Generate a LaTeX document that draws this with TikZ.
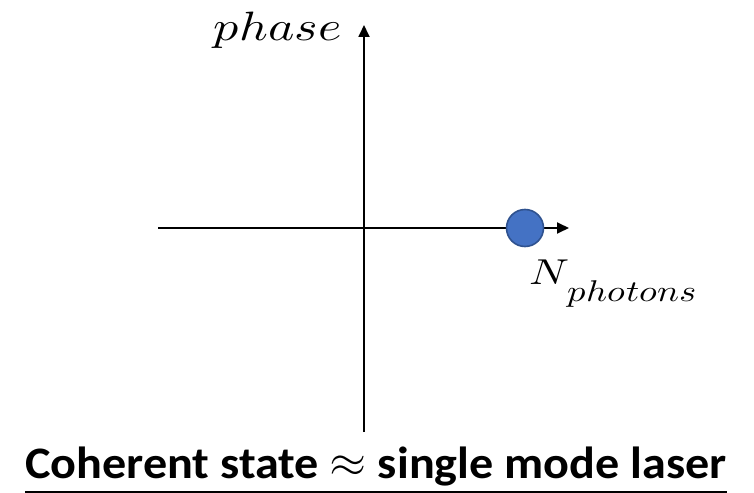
\documentclass[tikz,border=0pt]{standalone}
\usepackage{fontspec}
\setmainfont{Carlito}
\usepackage{unicode-math}
\setmathfont{Latin Modern Math}
\usetikzlibrary{arrows.meta}
\definecolor{dotfill}{HTML}{4472C4}
\definecolor{dotline}{HTML}{2F528F}
\tikzset{
  axis/.style={line width=1.8pt, -{Triangle[length=12pt,width=11pt]}},
  mlabel/.style={inner sep=0pt, xscale=1.22},
}
\begin{document}
\begin{tikzpicture}[x=1pt,y=-1pt]
\useasboundingbox (0,0) rectangle (754,492);
\coordinate (vb) at (364,432);
\coordinate (vt) at (364,25);
\coordinate (hl) at (158,228);
\coordinate (hr) at (569,228);
\draw[axis] (vb) -- (vt);
\draw[axis] (hl) -- (hr);
\node[circle, minimum size=37pt, inner sep=0pt, fill=dotfill, draw=dotline, line width=1.6pt] (dot) at (525,228) {};
\node[mlabel, anchor=base east] (ph) at (342,41) {\fontsize{41}{48}\selectfont$phase$};
\node[mlabel, anchor=base west, xscale=1.0] (np) at (529,284) {\fontsize{36}{44}\selectfont$N$\kern-1pt\raisebox{-17pt}{\fontsize{30}{36}\selectfont$photons$}};
\node[inner sep=0pt, anchor=base west, xscale=1.07] (cap) at (25,478) {\fontsize{45}{54}\selectfont\bfseries\underline{Coherent state \raisebox{2pt}{$\approx$} single mode laser}};
\end{tikzpicture}
\end{document}
